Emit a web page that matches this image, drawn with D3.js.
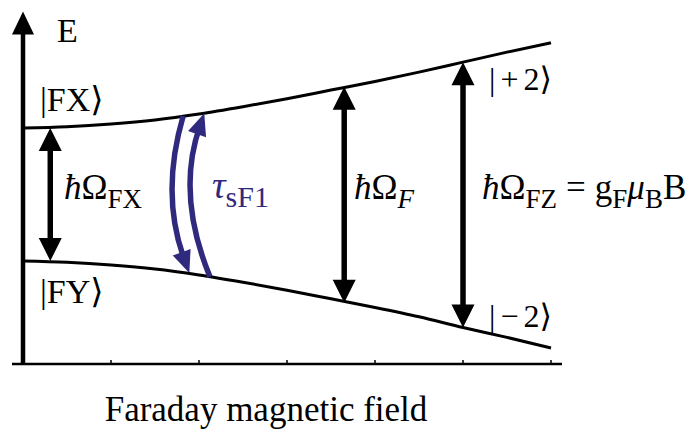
<!DOCTYPE html>
<html>
<head>
<meta charset="utf-8">
<script src="https://cdn.jsdelivr.net/npm/d3@7"></script>
<style>
  html, body { margin: 0; padding: 0; background: #fff; }
  text { font-family: 'Liberation Serif', 'DejaVu Serif', serif; fill: #000; }
</style>
</head>
<body>
<svg id="chart" width="696" height="438"></svg>
<script>
// Field values (arb. units) along the axis and the two levels
const fieldB = [0, 0.5, 1, 1.5, 2, 2.5, 3, 3.5, 4, 4.5, 5, 5.5, 6];
const upperLevel = [1.00, 1.02, 1.06, 1.12, 1.21, 1.32, 1.44, 1.57, 1.70, 1.84, 1.99, 2.14, 2.28];
const lowerLevel = [-1.00, -1.02, -1.06, -1.12, -1.21, -1.32, -1.44, -1.57, -1.70, -1.84, -2.00, -2.15, -2.31];
const xTicks = [1, 2, 3, 4, 5, 6];

// Splitting arrows: field position, top and bottom energy
const arrowB = [0.31, 3.65, 5.0];
const arrowTop = [1.0, 1.62, 1.99];
const arrowBottom = [-1.0, -1.63, -2.0];

// Relaxation arcs (start, control, end) in field/energy units
const arcDown = [[1.82, 1.18], [1.56, 0], [1.89, -1.18]];
const arcUp = [[2.125, -1.24], [1.74, 0], [2.06, 1.22]];

const purple = '#2f2a7e';
const svg = d3.select('#chart');

const x = d3.scaleLinear().domain([0, 6]).range([23, 551]);
const y = d3.scaleLinear().domain([-2.55, 2.75]).range([364, 11.6]);

// arrow head as a filled triangle, tip at (tx,ty), pointing along (dx,dy)
function head(g, tx, ty, dx, dy, len, wid, color) {
    const n = Math.hypot(dx, dy);
    const ux = dx / n, uy = dy / n;
    const bx = tx - ux * len, by = ty - uy * len;
    const px = -uy * wid / 2, py = ux * wid / 2;
    g.append('path')
        .attr('d', `M${tx},${ty}L${bx + px},${by + py}L${bx - px},${by - py}Z`)
        .attr('fill', color);
}

// axes
svg.append('line')
    .attr('x1', 12).attr('x2', 562)
    .attr('y1', y(-2.55)).attr('y2', y(-2.55))
    .attr('stroke', '#000').attr('stroke-width', 2.5);

svg.selectAll('.tick')
    .data(xTicks)
    .enter().append('line')
    .attr('x1', d => x(d)).attr('x2', d => x(d))
    .attr('y1', y(-2.55)).attr('y2', y(-2.55) - 4)
    .attr('stroke', '#000').attr('stroke-width', 1.5);

svg.append('line')
    .attr('x1', x(0)).attr('x2', x(0))
    .attr('y1', y(-2.55) + 1).attr('y2', y(2.75) + 18)
    .attr('stroke', '#000').attr('stroke-width', 4.5);
head(svg, x(0), y(2.75), 0, -1, 23, 22, '#000');

// energy levels
const line = d3.line()
    .x((d, i) => x(fieldB[i]))
    .y(d => y(d))
    .curve(d3.curveMonotoneX);

svg.append('path').datum(upperLevel)
    .attr('d', line).attr('fill', 'none')
    .attr('stroke', '#000').attr('stroke-width', 3);
svg.append('path').datum(lowerLevel)
    .attr('d', line).attr('fill', 'none')
    .attr('stroke', '#000').attr('stroke-width', 3);

// double arrows
arrowB.forEach((b, i) => {
    const xp = x(b), yt = y(arrowTop[i]), yb = y(arrowBottom[i]);
    svg.append('line')
        .attr('x1', xp).attr('x2', xp)
        .attr('y1', yt + 18).attr('y2', yb - 18)
        .attr('stroke', '#000').attr('stroke-width', 5.5);
    head(svg, xp, yt, 0, -1, 23, 23, '#000');
    head(svg, xp, yb, 0, 1, 23, 23, '#000');
});

// curved purple arrows
function arc(pts) {
    const [p0, c, p1] = pts.map(p => [x(p[0]), y(p[1])]);
    const dx = p1[0] - c[0], dy = p1[1] - c[1];
    const n = Math.hypot(dx, dy);
    const ex = p1[0] - dx / n * 14, ey = p1[1] - dy / n * 14;
    const p = d3.path();
    p.moveTo(p0[0], p0[1]);
    p.quadraticCurveTo(c[0], c[1], ex, ey);
    svg.append('path').attr('d', p.toString())
        .attr('fill', 'none').attr('stroke', purple).attr('stroke-width', 5.5);
    head(svg, p1[0], p1[1], dx, dy, 22, 19, purple);
}
arc(arcDown);
arc(arcUp);

// labels
svg.append('text').attr('x', 57).attr('y', 42)
    .style('font-size', '34px').text('E');

svg.append('text').attr('x', 40).attr('y', 111)
    .style('font-size', '34px').text('|FX⟩');
svg.append('text').attr('x', 40).attr('y', 303)
    .style('font-size', '34px').text('|FY⟩');

function ket(xp, yp, sign) {
    const t = svg.append('text').attr('x', xp).attr('y', yp)
        .style('font-size', '32px');
    t.append('tspan').text('|');
    t.append('tspan').attr('dx', 5).text(sign);
    t.append('tspan').attr('dx', 5).text('2⟩');
}
ket(489, 90, '+');
ket(489, 327, '−');

function mathLabel(xp, yp, parts, color, size) {
    size = size || 35;
    const t = svg.append('text').attr('x', xp).attr('y', yp)
        .style('font-size', size + 'px').style('fill', color || '#000');
    let shift = 0;
    parts.forEach(p => {
        const s = t.append('tspan').text(p.t);
        if (p.i) s.style('font-style', 'italic');
        const want = p.sub ? 9 : 0;
        if (want !== shift) { s.attr('dy', want - shift); shift = want; }
        if (p.sub) s.style('font-size', Math.round(size * 0.78) + 'px');
        if (p.dx) s.attr('dx', p.dx);
    });
}

mathLabel(64, 199, [{t: 'ħ', i: true}, {t: 'Ω'}, {t: 'FX', sub: true}]);
mathLabel(212, 198, [{t: 'τ', i: true}, {t: 'sF1', sub: true}], purple, 38);
mathLabel(354, 199, [{t: 'ħ', i: true}, {t: 'Ω'}, {t: 'F', sub: true, i: true}]);
mathLabel(482, 199, [{t: 'ħ', i: true}, {t: 'Ω'}, {t: 'FZ', sub: true},
    {t: '=', dx: 9}, {t: 'g', dx: 9}, {t: 'F', sub: true}, {t: 'μ', i: true}, {t: 'B', sub: true}, {t: 'B'}]);

svg.append('text').attr('x', 266).attr('y', 421)
    .attr('text-anchor', 'middle')
    .style('font-size', '35px').text('Faraday magnetic field');
</script>
</body>
</html>
